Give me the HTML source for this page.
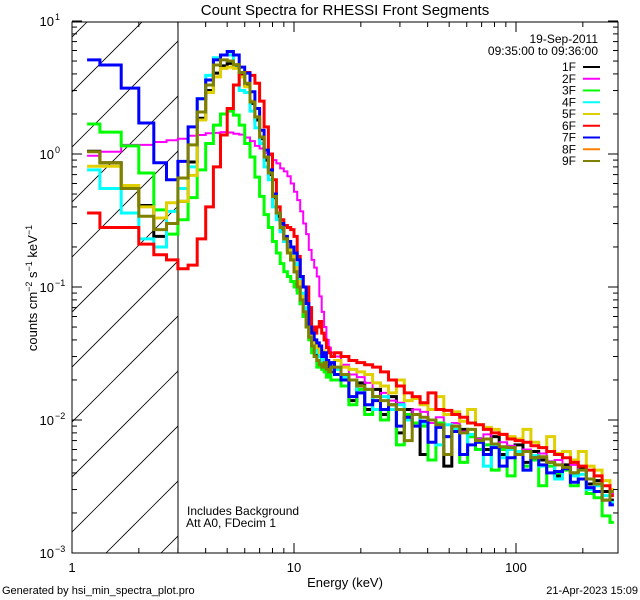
<!DOCTYPE html>
<html><head><meta charset="utf-8"><style>
html,body{margin:0;padding:0;background:#fff;}
svg{display:block;font-family:"Liberation Sans",sans-serif;}
</style></head><body>
<svg id="chart" width="640" height="600" viewBox="0 0 640 600" xmlns="http://www.w3.org/2000/svg">
<rect x="0" y="0" width="640" height="600" fill="#fff"/>
<defs><clipPath id="plotclip"><rect x="72" y="22" width="546" height="531"/></clipPath>
<clipPath id="hatchclip"><rect x="72" y="22" width="106" height="531"/></clipPath></defs>
<text x="345" y="15" font-size="15" text-anchor="middle">Count Spectra for RHESSI Front Segments</text>
<g id="hatch" clip-path="url(#hatchclip)" stroke="#000" stroke-width="0.8"></g>
<line x1="178" y1="22" x2="178" y2="553" stroke="#000" stroke-width="1"/>
<g id="series" clip-path="url(#plotclip)"></g>
<rect x="72" y="22" width="546" height="531" fill="none" stroke="#000" stroke-width="1"/>
<g id="axes" stroke="#000" stroke-width="1"></g>
<g id="labels" font-size="13"></g>
<text x="345" y="587" font-size="13" text-anchor="middle">Energy (keV)</text>
<text transform="translate(37,288) rotate(-90)" font-size="13" text-anchor="middle">counts cm<tspan dy="-5" font-size="9">−2</tspan><tspan dy="5"> s</tspan><tspan dy="-5" font-size="9">−1</tspan><tspan dy="5"> keV</tspan><tspan dy="-5" font-size="9">−1</tspan></text>
<text x="598" y="43" font-size="12" text-anchor="end">19-Sep-2011</text>
<text x="598" y="55" font-size="12" text-anchor="end">09:35:00 to 09:36:00</text>
<g id="legend" font-size="12"></g>
<text x="187" y="515" font-size="12">Includes Background</text>
<text x="186" y="527" font-size="12">Att A0, FDecim 1</text>
<text x="2" y="594" font-size="11">Generated by hsi_min_spectra_plot.pro</text>
<text x="638" y="594" font-size="11" text-anchor="end">21-Apr-2023 15:09</text>
</svg>
<script>
const energies = [1.17,1.5,1.83,2.17,2.5,2.83,3.17,3.5,3.83,4.17,4.5,4.83,5.17,5.5,5.83,6.17,6.5,6.83,7.17,7.5,7.83,8.17,8.5,8.83,9.17,9.5,9.83,10.17,10.5,10.83,11.17,11.5,11.83,12.17,12.5,12.83,13.17,13.5,13.83,14.17,14.5,14.83,
15.63,16.96,18.41,19.99,21.7,23.55,25.57,27.75,30.13,32.7,35.5,38.54,41.83,45.41,49.29,53.51,58.08,63.05,68.44,74.29,80.64,87.54,95.03,103.2,112,121.5,131.9,143.2,155.5,168.8,183.2,198.9,215.9,234.3,254.4,276.1];
const s1F = [1.05,.86,.55,.41,.24,.3,.44,.87,1.86,3.0,4.06,4.6,4.8,4.6,4.0,3.3,2.4,1.8,1.3,.9,.7,.47,.34,.27,.22,.19,.16,.13,.095,.075,.06,.05,.042,.038,.034,.03,.033,.028,.027,.025,.026,.023,
.022,.02,.014,.019,.012,.017,.011,.015,.008,.012,.011,.0055,.01,.0095,.0045,.009,.0085,.0075,.0072,.006,.0075,.0055,.006,.0065,.0048,.0058,.005,.0048,.0038,.0046,.004,.0043,.0033,.0035,.0029,.0025];
const s2F = [.97,1.04,1.17,1.17,1.23,1.27,1.3,1.37,1.39,1.43,1.44,1.46,1.45,1.42,1.4,1.33,1.25,1.15,1.1,1.02,.98,.9,.85,.78,.74,.68,.6,.52,.45,.37,.3,.25,.19,.16,.14,.12,.085,.065,.05,.04,.035,.032,
.03,.026,.022,.021,.019,.015,.016,.014,.0135,.011,.012,.0115,.0095,.0105,.0092,.0095,.0082,.0085,.0072,.0078,.0066,.0068,.0064,.0058,.006,.0053,.0056,.0049,.005,.0043,.0046,.0039,.0042,.0033,.0035,.0028];
const s3F = [1.68,1.46,1.15,.72,.38,.25,.32,.47,.76,1.2,1.65,2.0,2.1,1.96,1.65,1.2,.95,.67,.48,.35,.28,.22,.18,.15,.13,.12,.11,.1,.09,.075,.06,.05,.04,.032,.03,.025,.028,.024,.023,.021,.022,.02,
.02,.018,.013,.017,.011,.015,.01,.012,.0065,.011,.0095,.009,.005,.0095,.0075,.0085,.0048,.0075,.006,.0065,.0042,.006,.0038,.0055,.0045,.005,.0032,.0045,.004,.0042,.0032,.0036,.0028,.0026,.0019,.0017];
const s4F = [.76,.55,.36,.23,.2,.37,.55,.8,2.6,3.9,5.3,5.55,5.55,4.67,3.0,2.9,2.1,1.57,1.2,.8,.64,.4,.32,.26,.22,.2,.18,.15,.12,.09,.07,.05,.045,.04,.035,.032,.03,.028,.03,.026,.025,.024,
.024,.021,.02,.016,.017,.012,.015,.012,.013,.01,.011,.0095,.01,.0065,.0092,.0085,.0055,.0078,.0068,.0045,.0065,.0052,.006,.0058,.0042,.0054,.0045,.0048,.0036,.0043,.0038,.0039,.003,.0032,.0027,.0024];
const s5F = [.81,.81,.58,.4,.33,.43,.44,.69,1.8,2.9,3.8,4.4,4.5,4.4,3.8,3.2,2.5,1.9,1.35,.95,.72,.48,.36,.28,.23,.19,.17,.14,.11,.085,.065,.055,.045,.04,.038,.035,.032,.033,.03,.028,.027,.026,
.028,.025,.024,.023,.022,.019,.018,.016,.02,.014,.0145,.013,.012,.015,.011,.0115,.0098,.012,.0092,.0088,.0085,.0078,.0075,.0072,.0085,.0068,.0062,.0075,.0056,.0058,.005,.0058,.0045,.0042,.0035,.003];
const s6F = [.36,.28,.28,.21,.175,.16,.137,.146,.23,.4,.8,1.39,2.2,3.3,4.06,4.1,3.9,3.4,2.5,1.6,1.0,.64,.4,.32,.29,.28,.27,.24,.17,.12,.1,.1,.07,.05,.045,.05,.055,.045,.04,.035,.032,.03,
.032,.03,.028,.027,.026,.025,.023,.02,.018,.016,.015,.0135,.016,.012,.0118,.011,.0105,.0095,.0092,.0085,.008,.0078,.0072,.007,.0068,.0064,.0062,.0058,.0055,.0052,.0048,.0045,.0042,.0038,.0032,.0027];
const s7F = [5.1,4.67,3.13,1.71,.86,.64,.88,1.6,2.6,3.6,5.1,5.55,5.9,5.55,4.5,4.06,2.94,2.2,1.51,1.07,.76,.5,.36,.3,.24,.22,.2,.18,.16,.12,.1,.075,.05,.045,.04,.038,.036,.03,.032,.028,.025,.027,
.022,.02,.015,.016,.013,.014,.012,.013,.009,.0105,.009,.0098,.0068,.0088,.0075,.0082,.0055,.0065,.0068,.0055,.0062,.0045,.0052,.0055,.0042,.0052,.0046,.004,.0041,.0043,.0034,.0036,.0031,.0029,.0025,.0023];
const s9F = [1.04,.86,.55,.34,.27,.3,.66,1.17,2.07,3.3,4.67,5.1,5.0,4.7,4.1,3.4,2.46,1.9,1.34,.95,.72,.48,.36,.28,.23,.18,.16,.13,.1,.08,.065,.05,.042,.036,.03,.028,.026,.025,.027,.024,.023,.025,
.025,.022,.02,.018,.017,.015,.014,.013,.012,.007,.011,.0105,.01,.0092,.0055,.009,.008,.0085,.007,.0072,.0066,.0063,.0062,.0055,.0058,.0052,.0053,.0048,.0046,.0044,.004,.0042,.0036,.0033,.0025,.0029];
const seriesNames = ["1F","2F","3F","4F","5F","6F","7F","8F","9F"];
const seriesColors = ["#000000","#ff00ff","#00ff00","#00ffff","#e0d000","#ff0000","#0000ff","#ff8000","#808000"];
const xTickValues = [1,10,100];
const xTickLabels = ["1","10","100"];
const yTickExps = [1,0,-1,-2,-3];

const NS="http://www.w3.org/2000/svg";
const X0=72,X1=618,Y0=22,Y1=553;
function xs(e){return 72+222*Math.log10(e);}
function ys(v){return 154-133*Math.log10(v);}
function mk(tag,attrs,parent){const el=document.createElementNS(NS,tag);for(const k in attrs)el.setAttribute(k,attrs[k]);parent.appendChild(el);return el;}

const hatch=document.getElementById('hatch');
for(let c=-53;c<800;c+=55){
  const l=mk('line',{x1:c+162-600,y1:600,x2:c+162,y2:0},hatch);
  
  
}

const axes=document.getElementById('axes');
for(let d=0;d<3;d++){
  for(let m=1;m<=9;m++){
    const e=m*Math.pow(10,d);
    const x=xs(e);
    if(x>X1+0.5)continue;
    const len=(m===1)?10:5;
    const t1=mk('line',{x1:x,y1:Y1,x2:x,y2:Y1-len},axes);
    
    
    const t2=mk('line',{x1:x,y1:Y0,x2:x,y2:Y0+len},axes);
    
    
  }
}
for(let d=-3;d<1;d++){
  for(let m=1;m<=10;m++){
    const v=m*Math.pow(10,d);
    const y=ys(v);
    const len=(m===1||m===10)?10:5;
    const t1=mk('line',{x1:X0,y1:y,x2:X0+len,y2:y},axes);
    
    
    const t2=mk('line',{x1:X1,y1:y,x2:X1-len,y2:y},axes);
    
    
  }
}
const labels=document.getElementById('labels');
xTickValues.forEach((v,i)=>{
  const t=mk('text',{x:xs(v),y:572,'text-anchor':'middle'},labels);
  t.textContent=xTickLabels[i];
  
  
});
yTickExps.forEach(p=>{
  const y=ys(Math.pow(10,p));
  const t=mk('text',{x:54,y:y+5,'text-anchor':'end'},labels);
  t.textContent='10';
  
  
  const s=mk('text',{x:55,y:y-1,'font-size':'9'},labels);
  s.textContent=(p<0?'−':'')+Math.abs(p);
  
  
});

const seriesData=[s1F,s2F,s3F,s4F,s5F,s6F,s7F,null,s9F];
const g=document.getElementById('series');
seriesData.forEach((vals,si)=>{
  if(!vals)return;
  let d='M'+xs(energies[0]).toFixed(1)+','+ys(vals[0]).toFixed(1);
  for(let i=1;i<vals.length;i++){
    const e0=energies[i-1],e1=energies[i];
    const mid=(i<42)?(e0+e1)/2:Math.sqrt(e0*e1);
    d+=' H'+xs(mid).toFixed(1)+' V'+ys(vals[i]).toFixed(1);
  }
  d+=' H'+xs(energies[energies.length-1]).toFixed(1);
  const p=mk('path',{d:d,fill:'none',stroke:seriesColors[si],'stroke-width':si===1?2:3,'stroke-linejoin':'miter'},g);
  
  
});

const lg=document.getElementById('legend');
seriesNames.forEach((n,i)=>{
  const y=67+i*11.75;
  const t=mk('text',{x:576,y:y+4,'text-anchor':'end'},lg);
  t.textContent=n;
  
  
  const l=mk('line',{x1:583,y1:y,x2:600,y2:y,stroke:seriesColors[i],'stroke-width':2},lg);
  
  
});
</script>
</body></html>
